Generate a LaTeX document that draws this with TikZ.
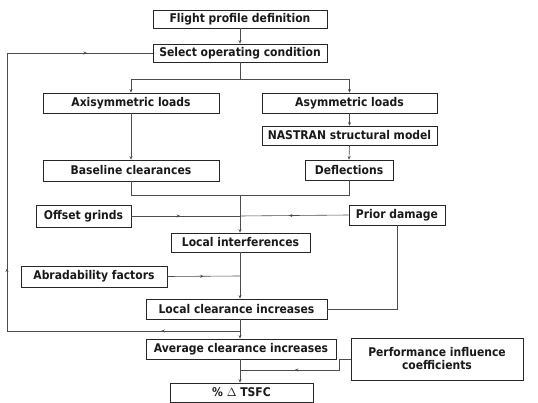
\documentclass[tikz,border=0pt]{standalone}
\usepackage{fontspec}
\setmainfont{DejaVu Sans Condensed}
\usetikzlibrary{arrows.meta,decorations.markings}
\begin{document}
\begin{tikzpicture}[x=1pt,y=-1pt,
  box/.style={draw=black!85,line width=0.7pt,inner sep=0pt,font=\bfseries\fontsize{12}{13}\selectfont,text=black!90,align=center},
  conn/.style={draw=black!70,line width=0.6pt},
  tip/.style={conn,-{Stealth[length=3.5pt,width=3pt]}},
  mid/.style={conn,postaction={decorate},decoration={markings,mark=at position #1 with {\arrow{Stealth[length=3.5pt,width=3pt]}}}}
]
\useasboundingbox (0,0) rectangle (538,403);
\node[box,minimum width=174pt,minimum height=18pt] (flight) at (240,19) {Flight profile definition};
\node[box,minimum width=174pt,minimum height=18pt] (select) at (240,53) {Select operating condition};
\node[box,minimum width=176pt,minimum height=20pt] (axi) at (131,103) {Axisymmetric loads};
\node[box,minimum width=175pt,minimum height=20pt] (asym) at (349.5,103) {Asymmetric loads};
\node[box,minimum width=175pt,minimum height=19pt] (nas) at (349.5,135.5) {NASTRAN structural model};
\node[box,minimum width=176pt,minimum height=21pt] (base) at (131,170.5) {Baseline clearances};
\node[box,minimum width=88pt,minimum height=20pt] (defl) at (349,170) {Deflections};
\node[box,minimum width=95pt,minimum height=22pt] (offset) at (83.5,216) {Offset grinds};
\node[box,minimum width=96pt,minimum height=20pt] (prior) at (397,215) {Prior damage};
\node[box,minimum width=139pt,minimum height=19pt] (lint) at (240.5,242.5) {Local interferences};
\node[box,minimum width=146pt,minimum height=21pt] (abr) at (94,276.5) {Abradability factors};
\node[box,minimum width=181pt,minimum height=20pt] (lci) at (236.5,309) {Local clearance increases};
\node[box,minimum width=190pt,minimum height=20pt] (avg) at (241,349) {Average clearance increases};
\node[box,minimum width=172pt,minimum height=42pt] (perf) at (437,359) {Performance influence\\coefficients};
\node[box,minimum width=143pt,minimum height=19pt] (tsfc) at (241.5,392.5) {\% $\Delta$ TSFC};
% junctions
\coordinate (j1) at (240,79);
\coordinate (j2) at (240,195);
\coordinate (j3) at (240,216);
\coordinate (j4) at (240,276);
\coordinate (fb) at (240,331);
\coordinate (fl) at (7,331);
\coordinate (j5) at (240,370);
% connectors
\draw[tip] (flight.south) -- (select.north);
\draw[conn] (select.south) -- (j1);
\draw[tip] (j1) -| (axi.north);
\draw[tip] (j1) -| (asym.north);
\draw[tip] (asym.south) -- (nas.north);
\draw[tip] (nas.south) -- (defl.north);
\draw[tip] (axi.south) -- (base.north);
\draw[conn] (base.south) |- (j2);
\draw[conn] (defl.south) |- (j2);
\draw[tip] (j2) -- (lint.north -| j2);
\draw[mid=0.45] (offset.east) -- (j3);
\draw[mid=0.55] (prior.west) -- (j3);
\draw[tip] (lint.south -| j2) -- (lci.north -| j2);
\draw[mid=0.5] (abr.east) -- (j4);
\draw[conn] (prior.south) |- (lci.east);
\draw[tip] (lci.south -| j2) -- (avg.north -| j2);
\draw[conn,postaction={decorate},decoration={markings,
  mark=at position 0.12 with {\arrow{Stealth[length=3.5pt,width=3pt]}},
  mark=at position 0.45 with {\arrow{Stealth[length=3.5pt,width=3pt]}},
  mark=at position 0.9 with {\arrow{Stealth[length=3.5pt,width=3pt]}}}]
  (fb) -- (fl) |- (select.west);
\draw[tip] (avg.south -| j2) -- (tsfc.north -| j2);
\draw[mid=0.55] (perf.west) -- ++(-11,0) |- (j5);
\end{tikzpicture}
\end{document}
